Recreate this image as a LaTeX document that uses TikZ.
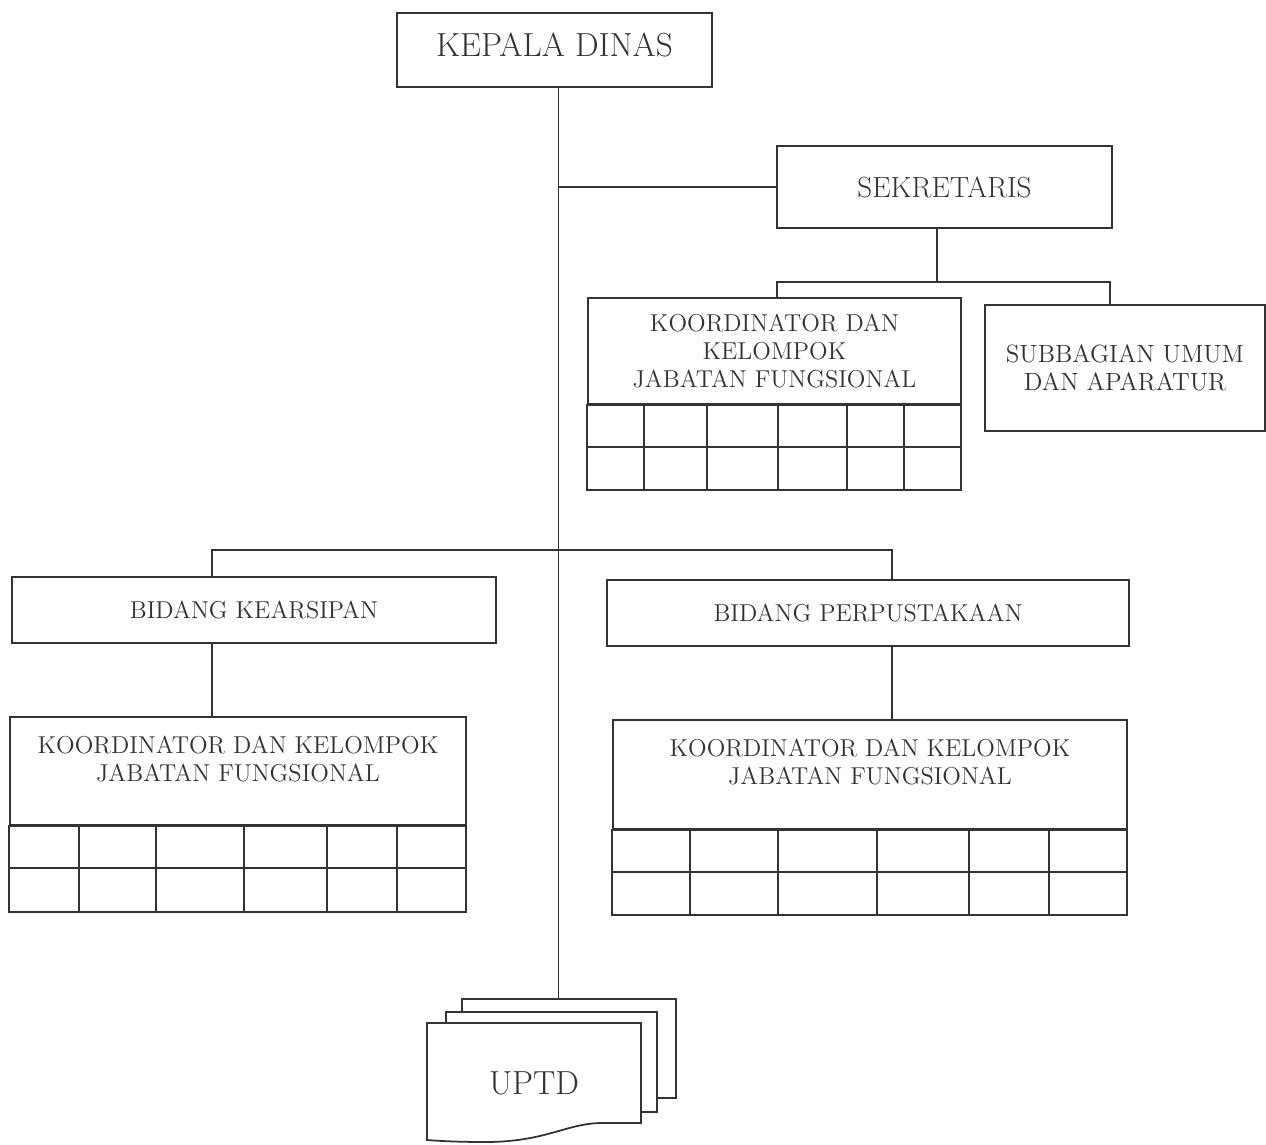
\documentclass[tikz,border=0pt]{standalone}
\usetikzlibrary{positioning}
\colorlet{ink}{black!80}
\tikzset{
  box/.style={draw=ink, line width=1pt, fill=white, inner sep=0pt},
  lbl/.style={text=ink, align=center, inner sep=0pt, font=\fontsize{13.9}{15.8}\selectfont},
  biglbl/.style={lbl, font=\fontsize{19}{22}\selectfont},
  conn/.style={draw=ink, line width=1pt},
}

\begin{document}
\begin{tikzpicture}[x=0.02cm,y=-0.02cm]
\useasboundingbox (0,0) rectangle (1266,1144);

% top
\node[box, biglbl, draw=ink, text depth=0.2cm, minimum width=6.30cm, minimum height=1.48cm] (kepala) at (554.5,50) {KEPALA DINAS};
\node[box, lbl, draw=ink, font=\fontsize{16.6}{19}\selectfont, minimum width=6.70cm, minimum height=1.64cm] (sekretaris) at (944.5,187) {SEKRETARIS};

\node[box, minimum width=7.46cm, minimum height=2.12cm] (kjfSek) at (774.5,351) {};
\node[lbl, below=0.34cm of kjfSek.north] (kjfSekTxt) {KOORDINATOR DAN\\KELOMPOK\\JABATAN FUNGSIONAL};
\node[box, lbl, draw=ink, font=\fontsize{14.2}{16}\selectfont, minimum width=5.60cm, minimum height=2.52cm] (subbagian) at (1125,368) {SUBBAGIAN UMUM\\DAN APARATUR};

% bidang
\node[box, lbl, draw=ink, minimum width=9.68cm, minimum height=1.32cm] (kearsipan) at (254,610) {BIDANG KEARSIPAN};
\node[box, lbl, draw=ink, minimum width=10.44cm, minimum height=1.32cm] (perpus) at (868,613) {BIDANG PERPUSTAKAAN};

\node[box, minimum width=9.12cm, minimum height=2.16cm] (kjfArsip) at (238,771) {};
\node[lbl, below=0.40cm of kjfArsip.north] (kjfArsipTxt) {KOORDINATOR DAN KELOMPOK\\JABATAN FUNGSIONAL};
\node[box, minimum width=10.28cm, minimum height=2.18cm] (kjfPerpus) at (870,774.5) {};
\node[lbl, below=0.40cm of kjfPerpus.north] (kjfPerpusTxt) {KOORDINATOR DAN KELOMPOK\\JABATAN FUNGSIONAL};

% grids
\draw[conn] (kjfSek.south west) rectangle (961,490);
\draw[conn] (588,447) -- (961,447);
\foreach \cx in {644,707,778,847,904}
\draw[conn] (\cx,404) -- (\cx,490);

\draw[conn] (kjfArsip.south west) rectangle (466,912);
\draw[conn] (10,868) -- (466,868);
\foreach \cx in {79,156,244,327,397}
\draw[conn] (\cx,825) -- (\cx,912);

\draw[conn] (kjfPerpus.south west) rectangle (1127,915);
\draw[conn] (613,872) -- (1127,872);
\foreach \cx in {690,778,877,969,1049}
\draw[conn] (\cx,829) -- (\cx,915);

% uptd
\node[box, minimum width=4.28cm, minimum height=1.98cm] (uptdBack) at (569,1048.5) {};
\node[box, minimum width=4.22cm, minimum height=2.00cm] (uptdMid) at (551.5,1062) {};
\draw[conn, fill=white] (427,1023) -- (641,1023) -- (641,1123) -- (600,1123)
  .. controls (565,1124) and (545,1142) .. (485,1142)
  .. controls (460,1142) and (440,1141) .. (427,1140) -- cycle;
\node[biglbl] (uptd) at (534,1083) {UPTD};

% lines
\draw[conn] ([xshift=0.08cm]kepala.south) coordinate (trunk) -- (trunk |- uptdBack.north);
\draw[conn] (trunk |- sekretaris.west) -- (sekretaris.west);

\coordinate (sekBus) at (937,282);
\coordinate (busL) at (777,282);
\coordinate (busR) at (1110,282);
\draw[conn] (sekretaris.south -| sekBus) -- (sekBus);
\draw[conn] (kjfSek.north -| busL) -- (busL) -- (busR) -- (busR |- subbagian.north);

\coordinate (arsipDrop) at (212,550);
\coordinate (perpusDrop) at (892,550);
\draw[conn] (arsipDrop |- kearsipan.north) -- (arsipDrop) -- (perpusDrop) -- (perpusDrop |- perpus.north);
\draw[conn] (arsipDrop |- kearsipan.south) -- (arsipDrop |- kjfArsip.north);
\draw[conn] (perpusDrop |- perpus.south) -- (perpusDrop |- kjfPerpus.north);

\end{tikzpicture}
\end{document}
